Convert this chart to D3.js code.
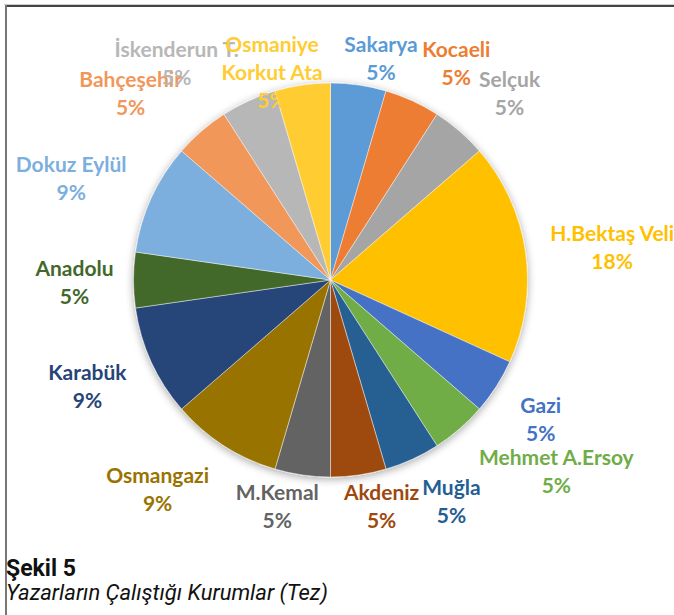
<!DOCTYPE html>
<html lang="tr">
<head>
<meta charset="UTF-8">
<script src="https://cdn.jsdelivr.net/npm/d3@7"></script>
<style>
  html, body { margin: 0; padding: 0; background: #fff; }
  svg { display: block; }
  .lbl { font-family: Lato, "Open Sans", sans-serif; font-weight: 700; font-size: 21px; }
  .cap { font-family: Roboto, sans-serif; fill: #111; }
</style>
</head>
<body>
<script>
  // data (thesis counts, total 22)
  const kurumlar = ["Sakarya", "Kocaeli", "Selçuk", "H.Bektaş Veli", "Gazi", "Mehmet A.Ersoy",
    "Muğla", "Akdeniz", "M.Kemal", "Osmangazi", "Karabük", "Anadolu", "Dokuz Eylül",
    "Bahçeşehir", "İskenderun T.", "Osmaniye Korkut Ata"];
  const sayilar = [1, 1, 1, 4, 1, 1, 1, 1, 1, 2, 2, 1, 2, 1, 1, 1];
  const renkler = ["#5b9bd5", "#ed7d31", "#a5a5a5", "#ffc000", "#4472c4", "#70ad47",
    "#255e91", "#9e480e", "#636363", "#997300", "#264478", "#43682b", "#7cafdd",
    "#f1975a", "#b7b7b7", "#ffcd33"];
  // labels the way excel wrapped them
  const etiketSatir = { "Osmaniye Korkut Ata": ["Osmaniye", "Korkut Ata"] };

  const W = 674, H = 615;
  const cx = 330.5, cy = 280, r = 197;
  const lineH = 28;

  const svg = d3.select("body").append("svg").attr("width", W).attr("height", H);

  // frame
  svg.append("line").attr("x1", 4).attr("x2", W).attr("y1", 4.5).attr("y2", 4.5)
    .attr("stroke", "#ccc").attr("stroke-width", 1);
  svg.append("line").attr("x1", 5).attr("x2", W).attr("y1", 6).attr("y2", 6)
    .attr("stroke", "#444").attr("stroke-width", 2);
  svg.append("line").attr("x1", 6).attr("x2", 6).attr("y1", 5).attr("y2", H)
    .attr("stroke", "#777").attr("stroke-width", 2);

  const defs = svg.append("defs");
  const f = defs.append("filter").attr("id", "sh").attr("x", "-20%").attr("y", "-20%")
    .attr("width", "140%").attr("height", "140%");
  f.append("feGaussianBlur").attr("in", "SourceAlpha").attr("stdDeviation", 4);
  f.append("feOffset").attr("dx", 0).attr("dy", 2).attr("result", "b");
  f.append("feComponentTransfer").append("feFuncA").attr("type", "linear").attr("slope", 0.35);
  const m = f.append("feMerge");
  m.append("feMergeNode");
  m.append("feMergeNode").attr("in", "SourceGraphic");

  const total = d3.sum(sayilar);
  const pie = d3.pie().sort(null).value(d => d)(sayilar);
  const arc = d3.arc().innerRadius(0).outerRadius(r);
  const color = d3.scaleOrdinal().domain(kurumlar).range(renkler);

  const g = svg.append("g").attr("transform", `translate(${cx},${cy})`);
  g.append("g").attr("filter", "url(#sh)")
    .selectAll("path").data(pie).join("path")
    .attr("d", arc)
    .attr("fill", (d, i) => color(kurumlar[i]))
    .attr("stroke", "rgba(255,255,255,0.6)")
    .attr("stroke-width", 0.75);

  // labels outside end
  const fmt = d3.format(".0%");
  const clamp = v => Math.max(-1, Math.min(1, v));
  const lg = svg.append("g");
  pie.forEach((d, i) => {
    const name = kurumlar[i];
    const lines = (etiketSatir[name] || [name]).concat([fmt(sayilar[i] / total)]);
    const a = (d.startAngle + d.endAngle) / 2;
    const s = Math.sin(a), c = Math.cos(a);
    const t = lg.append("text").attr("class", "lbl")
      .attr("fill", color(name)).attr("text-anchor", "middle");
    lines.forEach((ln, k) => t.append("tspan").attr("x", 0).attr("dy", k ? lineH : 0).text(ln));
    const w = d3.max(t.selectAll("tspan").nodes(), n => n.getComputedTextLength());
    const gap = 4 + 26 * Math.abs(Math.sin(2 * a)) + 16 * Math.pow(s, 16);
    const ax = cx + (r + gap) * s, ay = cy - (r + gap) * c;
    const bx = ax + clamp(s * 4) * w / 2;
    const by = ay - clamp(c * 1.5) * 18;
    // block of the first two lines centred on (bx, by), extra lines run downward
    t.attr("transform", `translate(${bx},${by - lineH / 2 + 10})`);
  });

  // caption
  svg.append("text").attr("class", "cap").attr("x", 6).attr("y", 576)
    .attr("font-size", 23).attr("font-weight", 700).text("Şekil 5");
  svg.append("text").attr("class", "cap").attr("x", 6).attr("y", 600)
    .attr("font-size", 22).attr("font-style", "italic").text("Yazarların Çalıştığı Kurumlar (Tez)");
</script>
</body>
</html>
